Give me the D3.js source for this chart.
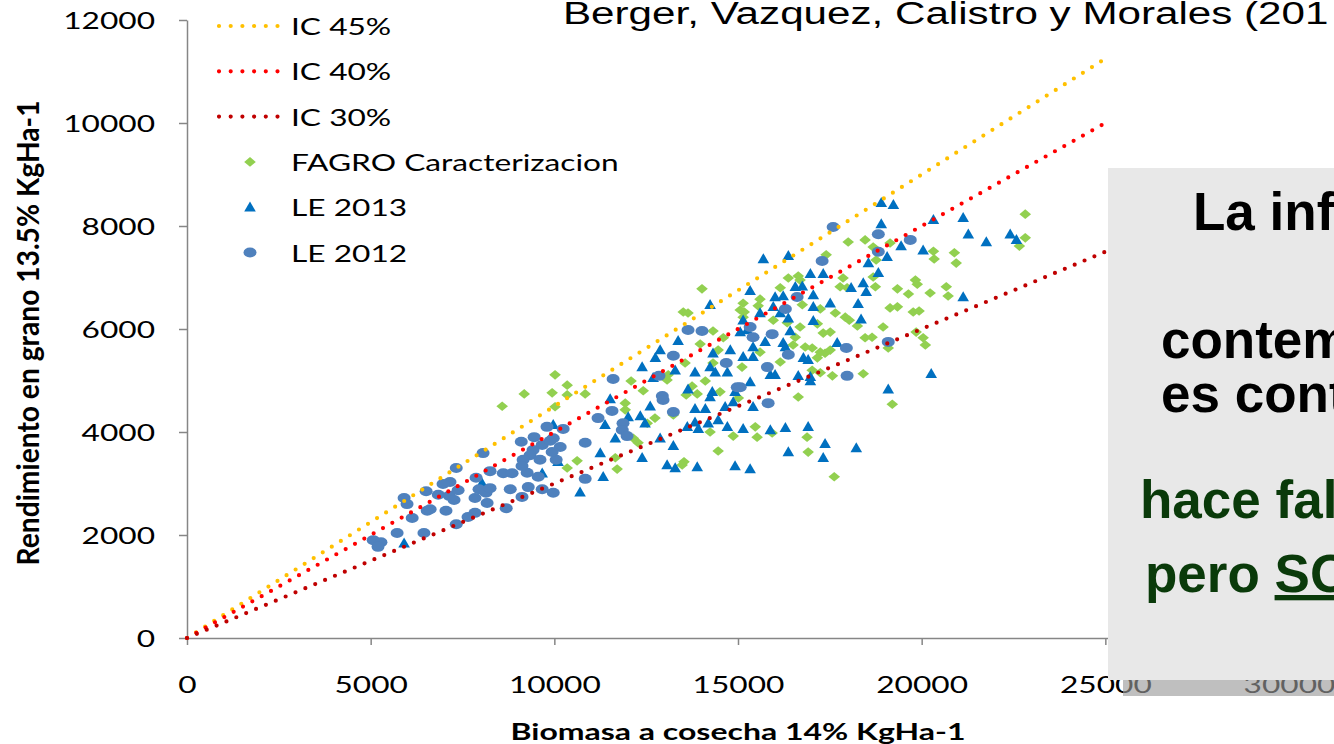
<!DOCTYPE html>
<html>
<head>
<meta charset="utf-8">
<title>Biomasa vs rendimiento</title>
<script src="https://d3js.org/d3.v7.min.js"></script>
<style>
	body { margin: 0; background: #fff; }
	svg { display: block; font-family: Lato, "Open Sans", sans-serif; }
	.axis path, .axis line { stroke: #868686; stroke-width: 1.5; }
	.axis text { fill: #000; font-size: 24px; font-family: Lato, sans-serif; }
	.box-text { font-family: "Liberation Sans", Arial, sans-serif; font-weight: bold; font-size: 53px; }
</style>
</head>
<body>
<svg id="chart" width="1334" height="744"></svg>
<script>
// axis ticks
var xTicks = [0, 5000, 10000, 15000, 20000, 25000, 30000];
var yTicks = [0, 2000, 4000, 6000, 8000, 10000, 12000];

// harvest index reference lines (biomasa, rendimiento)
var icLabels = ["IC 45%", "IC 40%", "IC 30%"];
var ic45 = [[0, 0], [25000, 11250]];
var ic40 = [[0, 0], [25000, 10000]];
var ic30 = [[0, 0], [25000, 7500]];

var seriesLabels = ["FAGRO Caracterizacion", "LE 2013", "LE 2012"];

// FAGRO Caracterizacion (biomasa, rendimiento)
var fagro = [
	[10020,5110],[9180,4740],[9940,4760],[8580,4500],[10020,4490],[10620,3440],[10350,3300],[11660,3500],[11710,3280],[11930,4560],
	[14020,6780],[13510,6330],[13640,6310],[15140,6500],[15170,6330],[14320,5960],[14600,5830],[13970,5710],[14460,5590],[13560,5340],
	[14320,5340],[15110,5260],[13100,5110],[13070,5010],[14110,4990],[12090,4990],[10350,4910],[10350,4720],[10840,4740],[12420,4800],
	[13750,4890],[13890,4740],[14510,4780],[13590,4720],[11930,4430],[15010,4660],[12740,4270],[12530,4170],[13240,4330],[15470,4100],
	[14240,4000],[12150,3880],[12280,3790],[14870,3920],[15520,3900],[14460,3630],[13530,3420],[13480,3360],
	[18000,7690],[18460,7730],[19140,7670],[17400,7440],[18680,7590],[18760,7340],[16370,6990],[16640,7030],[16690,6950],[17860,6990],
	[17780,6820],[17970,6800],[18740,6820],[16150,6800],[18680,7010],[19340,6780],[15600,6580],[15550,6450],[16750,6470],[17240,6390],
	[17650,6310],[17920,6230],[18030,6170],[15060,6370],[15140,6230],[15960,6170],[16340,6120],[16690,6040],[17160,6100],[18250,6060],
	[18950,6040],[18460,5830],[18650,5840],[19140,6410],[19340,6430],[17320,5920],[17510,5940],[16560,5840],[16500,5690],[16830,5650],
	[17020,5630],[17240,5550],[17370,5530],[17510,5590],[15600,5550],[17160,5440],[16150,5360],[17020,5200],[17240,5150],[17570,5090],
	[18410,5130],[16640,4680],[19200,4540],[15930,3980],[16880,3900],[16910,3610],[17620,3130],
	[22820,8230],[22820,7770],[22660,7610],[20320,7510],[20340,7360],[20890,7480],[20940,7280],[19830,6950],[19880,6870],[19640,6680],
	[20230,6700],[20670,6820],[20720,6640],[19770,6330],[19930,6350],[19850,5940],[20040,5830],[20100,5690],[19090,5630]
];

// LE 2013
var le2013 = [
	[5910,1840],[9970,4140],[9670,3200],[8030,3010],[10100,3420],[10700,2830],[11250,3590],[11330,3130],[11660,3880],[11380,4140],
	[15330,6740],[14240,6470],[13370,5770],[12880,5590],[12750,5440],[12390,5260],[12690,5050],[13290,5200],[13830,5160],[14320,5530],
	[14790,5590],[15140,5460],[15410,5460],[15140,6170],[15250,5980],[15060,5940],[15410,5650],[14240,5260],[14380,5160],[14710,5160],
	[15330,4970],[13640,4830],[14300,4780],[14240,4680],[14920,4780],[14870,4580],[14650,4490],[15410,4490],[11520,4640],[12610,4500],
	[12340,4310],[12470,4170],[12010,4290],[13830,4450],[14110,4450],[13830,4190],[13620,4100],[13920,4060],[14190,4170],[14460,4230],
	[14710,4100],[15140,4060],[12880,3880],[13240,3730],[12390,3500],[13070,3360],[13290,3300],[13890,3320],[14920,3340],[15330,3280],
	[18900,8450],[19230,8410],[18900,8040],[19060,7400],[18550,7280],[18820,7090],[15690,7360],[16370,7420],[16970,7070],[17320,7070],
	[16560,6820],[16750,6830],[16010,6620],[16230,6640],[17050,6660],[18410,6890],[18490,6720],[18080,6800],[15960,6430],[16150,6310],
	[16370,6210],[17510,6500],[18270,6490],[17050,6430],[15600,6310],[17050,6160],[18350,6190],[16420,5960],[15740,5750],[16230,5730],
	[16290,5650],[17700,5730],[16780,5440],[16910,5400],[15880,5110],[16010,5110],[16640,5090],[16970,5070],[16970,4990],[15880,4040],
	[16290,4080],[16910,4100],[17370,3770],[18220,3690],[16370,3610],[17320,3500],[19090,4830],[20320,8120],[21130,8160],[21270,7840],
	[21760,7690],[22410,7840],[22580,7730],[19440,7610],[20040,7530],[21130,6620],[20260,5130]
];

// LE 2012
var le2012 = [
	[8060,3590],[7330,3300],[8250,3240],[7870,3110],[8610,3200],[8850,3200],[9260,3210],[9100,3810],[9450,3900],[9800,4100],
	[9970,3880],[9670,3750],[9420,3650],[9340,3550],[9150,3460],[9120,3340],[9610,3460],[9560,3130],[10050,3460],[7160,3030],
	[6970,2990],[6510,2850],[6840,2780],[7140,2760],[7270,2680],[7380,2870],[7840,2720],[8170,2620],[7950,2890],[8140,2820],
	[8250,2910],[8800,2890],[9290,2930],[9670,2890],[9970,2820],[9120,2740],[8690,2520],[5910,2720],[5990,2600],[6540,2470],
	[6620,2500],[6130,2330],[7050,2470],[7840,2430],[7650,2350],[7330,2210],[5720,2040],[6450,2040],[5070,1900],[5280,1860],
	[5200,1770],
	[13640,5980],[14020,5960],[13240,5480],[14680,5340],[11600,5030],[12850,5090],[14980,4870],[12940,4700],[12960,4620],[11570,4410],
	[11190,4270],[13240,4390],[11870,4170],[11850,4040],[11980,3920],[10840,3790],[10240,4060],[9890,3830],[10160,3710],[9940,3610],
	[10840,3090],
	[17590,7980],[18820,7840],[18820,7500],[17290,7320],[16610,6620],[16290,6390],[15330,6040],[15410,5840],[15930,5900],[16370,5500],
	[17950,5630],[19090,5750],[15800,5260],[17970,5090],[15820,4560],[15060,4870],[19690,7730]
];

var titleText = "Berger, Vazquez, Calistro y Morales (201";
var xTitle = "Biomasa a cosecha 14% KgHa-1";
var yTitle = "Rendimiento en grano 13.5% KgHa-1";
var boxLines = ["La inf", "contem", "es cont", "hace fal"];

// the slide is stretched horizontally, so text is widened too
var SX = 1.32;
var icColors = ["#FFC000", "#FF0000", "#C00000"];
var icData = [ic45, ic40, ic30];

var svg = d3.select("#chart");
svg.append("rect").attr("width", 1334).attr("height", 744).attr("fill", "#fff");

var x = d3.scaleLinear().domain([0, 30000]).range([187, 1289]);
var y = d3.scaleLinear().domain([0, 12000]).range([638, 20]);

// axes
var gy = svg.append("g").attr("class", "axis")
	.attr("transform", "translate(187,0)")
	.call(d3.axisLeft(y).tickValues(yTicks).tickSize(8).tickSizeOuter(0).tickFormat(d3.format("d")));
gy.attr("font-size", null).attr("font-family", null);
gy.selectAll("text")
	.attr("x", -32 / SX)
	.attr("dy", "0.36em")
	.attr("transform", "scale(" + SX + ",1)");

var gx = svg.append("g").attr("class", "axis")
	.attr("transform", "translate(0,638)")
	.call(d3.axisBottom(x).tickValues(xTicks).tickSize(7).tickSizeOuter(0).tickFormat(d3.format("d")));
gx.attr("font-size", null).attr("font-family", null);
gx.selectAll("text")
	.attr("y", 55)
	.attr("dy", 0)
	.attr("transform", "scale(" + SX + ",1)");

// markers
var diamond = "M0,-4.8L5.8,0L0,4.8L-5.8,0Z";
var triangle = "M0,-5.8L5.8,4.2L-5.8,4.2Z";

function pos(d) { return "translate(" + x(d[0]) + "," + y(d[1]) + ")"; }

svg.append("g").selectAll("path").data(fagro).join("path")
	.attr("d", diamond).attr("transform", pos).attr("fill", "#92D050");
svg.append("g").selectAll("path").data(le2013).join("path")
	.attr("d", triangle).attr("transform", pos).attr("fill", "#0070C0");
svg.append("g").selectAll("ellipse").data(le2012).join("ellipse")
	.attr("cx", function(d) { return x(d[0]); })
	.attr("cy", function(d) { return y(d[1]); })
	.attr("rx", 6.5).attr("ry", 5)
	.attr("fill", "#4F81BD");

// IC lines, round dots
var line = d3.line().x(function(d) { return x(d[0]); }).y(function(d) { return y(d[1]); });
svg.append("g").selectAll("path").data(icData).join("path")
	.attr("d", line)
	.attr("fill", "none")
	.attr("stroke", function(d, i) { return icColors[i]; })
	.attr("stroke-width", 4.2)
	.attr("stroke-linecap", "round")
	.attr("stroke-dasharray", "0,10.7");

// legend
var legend = svg.append("g");
var rowY = function(i) { return 26 + i * 45.3; };
icLabels.forEach(function(lab, i) {
	legend.append("path")
		.attr("d", "M219," + rowY(i) + "H279")
		.attr("stroke", icColors[i]).attr("stroke-width", 4.2)
		.attr("stroke-linecap", "round").attr("stroke-dasharray", "0,11.7");
});
legend.append("path").attr("d", diamond).attr("transform", "translate(250," + rowY(3) + ")").attr("fill", "#92D050");
legend.append("path").attr("d", triangle).attr("transform", "translate(250," + rowY(4) + ")").attr("fill", "#0070C0");
legend.append("ellipse").attr("cx", 250).attr("cy", rowY(5)).attr("rx", 6.5).attr("ry", 5).attr("fill", "#4F81BD");
icLabels.concat(seriesLabels).forEach(function(lab, i) {
	legend.append("text")
		.attr("transform", "translate(291," + (rowY(i) + 9) + ") scale(" + SX + ",1)")
		.style("font-size", "24px")
		.text(lab);
});

// axis titles
svg.append("text")
	.attr("transform", "translate(738,740) scale(" + SX + ",1)")
	.attr("text-anchor", "middle")
	.attr("textLength", 455 / SX).attr("lengthAdjust", "spacingAndGlyphs")
	.style("font-size", "23.5px").style("font-weight", "bold")
	.text(xTitle);
svg.append("text")
	.attr("transform", "translate(39,333) scale(" + SX + ",1) rotate(-90)")
	.attr("text-anchor", "middle")
	.attr("textLength", 465).attr("lengthAdjust", "spacingAndGlyphs")
	.style("font-size", "23.5px").style("font-weight", "bold")
	.text(yTitle);

// title at top of the slide
svg.append("text")
	.attr("transform", "translate(563,24) scale(1.36,1)")
	.style("font-family", "'Liberation Sans', Arial, sans-serif")
	.style("font-size", "31px")
	.text(titleText);

// overlaid grey box with its shadow
svg.append("rect").attr("x", 1123).attr("y", 184).attr("width", 260).attr("height", 512)
	.attr("fill", "#999").attr("opacity", 0.63);
svg.append("rect").attr("x", 1108).attr("y", 168).attr("width", 260).attr("height", 512)
	.attr("fill", "#E8E8E8");

var boxX = [1193, 1161, 1161, 1140];
var boxY = [230, 358, 412, 518];
boxLines.forEach(function(t, i) {
	svg.append("text").attr("class", "box-text")
		.attr("x", boxX[i]).attr("y", boxY[i])
		.attr("fill", i < 3 ? "#000" : "#0A3A0A")
		.text(t);
});
var pero = svg.append("text").attr("class", "box-text")
	.attr("x", 1145).attr("y", 592).attr("fill", "#0A3A0A");
pero.append("tspan").text("pero ");
pero.append("tspan").style("text-decoration", "underline").text("SO");
</script>
</body>
</html>
